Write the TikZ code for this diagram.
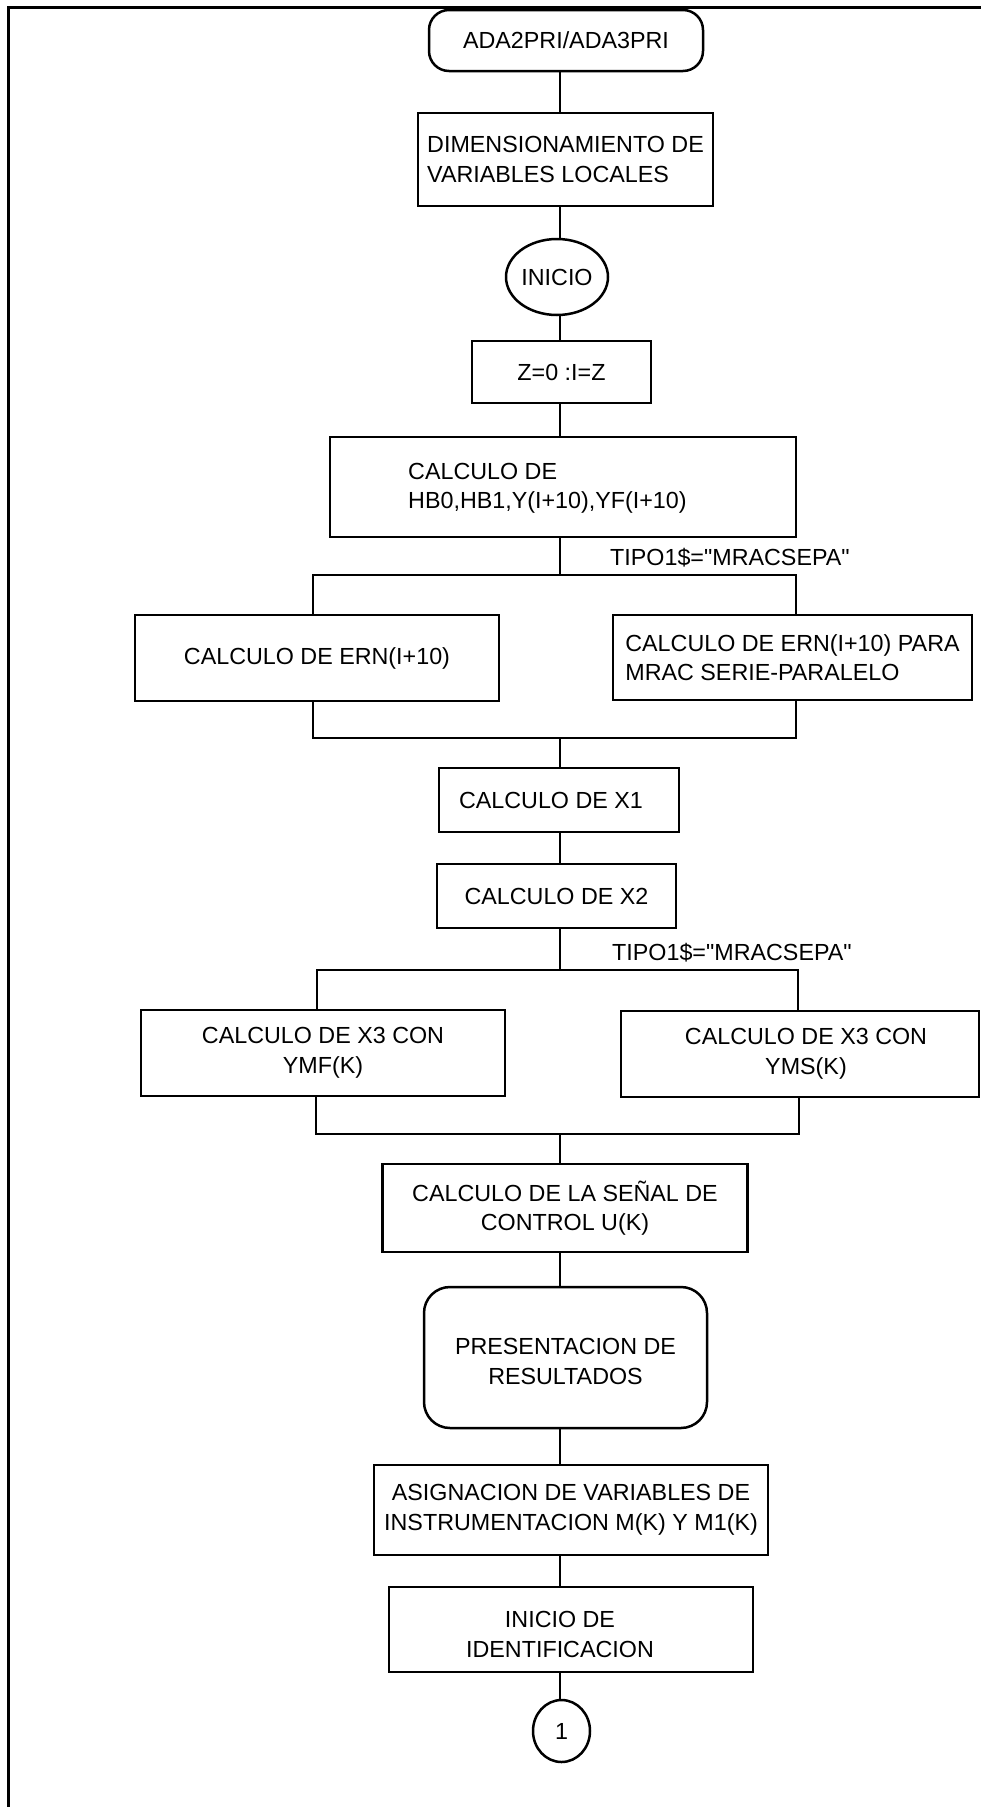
\documentclass[tikz,border=0pt]{standalone}
\usepackage{fontspec}
\setmainfont{Liberation Sans}[Ligatures=TeXOff]
\usetikzlibrary{shapes.geometric}
\begin{document}
\begin{tikzpicture}[x=1pt,y=-1pt,
  font=\fontsize{23.3}{29.5}\selectfont,
  box/.style={draw, line width=2.5pt, rectangle, inner sep=0pt, align=center},
  term/.style={box, rounded corners=#1},
  oval/.style={draw, line width=2.5pt, ellipse, inner sep=0pt},
  link/.style={line width=2pt},
  cond/.style={anchor=west, inner sep=0pt}]
\useasboundingbox (0,0) rectangle (981,1807);

% page frame
\draw[line width=3pt] (981,7) -- (8,7) -- (8,1807);

% main column
\node[term=20pt, minimum width=274pt, minimum height=61pt] (start) at (566,40.5) {ADA2PRI/ADA3PRI};
\node[box, align=left, minimum width=295pt, minimum height=93pt] (dim) at (565.5,159.5)
  {DIMENSIONAMIENTO DE\\VARIABLES LOCALES};
\node[oval, minimum width=102pt, minimum height=76pt] (inicio) at (557,277) {INICIO};
\node[box, minimum width=179pt, minimum height=62pt] (zi) at (561.5,372) {Z=0 :I=Z};
\node[box, minimum width=466pt, minimum height=100pt] (hb) at (563,487) {};
\node[cond, align=left] (hbt) at (408,488.5) {CALCULO DE\\HB0,HB1,Y(I+10),YF(I+10)};

% first selection
\node[cond] (c1) at (610,558) {TIPO1\$="MRACSEPA"};
\node[box, minimum width=364pt, minimum height=86pt] (ernL) at (317,658) {CALCULO DE ERN(I+10)};
\node[box, align=left, minimum width=359pt, minimum height=85pt] (ernR) at (792.5,657.5)
  {CALCULO DE ERN(I+10) PARA\\MRAC SERIE-PARALELO};

\node[box, minimum width=240pt, minimum height=64pt,
  label={[xshift=-8pt]center:CALCULO DE X1}] (x1) at (559,800) {};
\node[box, minimum width=239pt, minimum height=64pt] (x2) at (556.5,896) {CALCULO DE X2};

% second selection
\node[cond] (c2) at (612,953) {TIPO1\$="MRACSEPA"};
\node[box, minimum width=364pt, minimum height=86pt] (x3L) at (323,1053) {CALCULO DE X3 CON\\YMF(K)};
\node[box, minimum width=358pt, minimum height=86pt,
  label={[xshift=6pt, align=center]center:CALCULO DE X3 CON\\YMS(K)}] (x3R) at (800,1054) {};

\node[box, minimum width=365pt, minimum height=88pt] (senal) at (565,1208)
  {CALCULO DE LA SEÑAL DE\\CONTROL U(K)};
\node[term=26pt, minimum width=283pt, minimum height=141pt,
  label={[yshift=-4pt, align=center]center:PRESENTACION DE\\RESULTADOS}] (pres) at (565.5,1357.5) {};
\node[box, minimum width=394pt, minimum height=90pt] (asig) at (571,1510)
  {ASIGNACION DE VARIABLES DE\\INSTRUMENTACION M(K) Y M1(K)};
\node[box, minimum width=364pt, minimum height=85pt,
  label={[xshift=-11pt, yshift=-5pt, align=center]center:INICIO DE\\IDENTIFICACION}] (ident) at (571,1629.5) {};
\node[oval, minimum width=57pt, minimum height=62pt] (one) at (561.5,1731) {1};

% connector geometry
\coordinate (sp) at (560,0);
\coordinate (b1) at (560,575);  \coordinate (b1l) at (313,575);  \coordinate (b1r) at (796,575);
\coordinate (m1) at (560,738);  \coordinate (m1l) at (313,738);  \coordinate (m1r) at (796,738);
\coordinate (b2) at (560,970);  \coordinate (b2l) at (317,970);  \coordinate (b2r) at (798,970);
\coordinate (m2) at (560,1134); \coordinate (m2l) at (316,1134); \coordinate (m2r) at (799,1134);

% straight links
\draw[link] (start.south -| sp) -- (dim.north -| sp);
\draw[link] (dim.south -| sp) -- (inicio.north -| sp);
\draw[link] (inicio.south -| sp) -- (zi.north -| sp);
\draw[link] (zi.south -| sp) -- (hb.north -| sp);

% first split and join
\draw[link] (hb.south -| sp) -- (b1);
\draw[link] (b1l |- ernL.north) -- (b1l) -- (b1r) -- (b1r |- ernR.north);
\draw[link] (m1l |- ernL.south) -- (m1l) -- (m1r) -- (m1r |- ernR.south);
\draw[link] (m1) -- (m1 |- x1.north);
\draw[link] (x1.south -| sp) -- (x2.north -| sp);

% second split and join
\draw[link] (x2.south -| sp) -- (b2);
\draw[link] (b2l |- x3L.north) -- (b2l) -- (b2r) -- (b2r |- x3R.north);
\draw[link] (m2l |- x3L.south) -- (m2l) -- (m2r) -- (m2r |- x3R.south);
\draw[link] (m2) -- (m2 |- senal.north);

\draw[link] (senal.south -| sp) -- (pres.north -| sp);
\draw[link] (pres.south -| sp) -- (asig.north -| sp);
\draw[link] (asig.south -| sp) -- (ident.north -| sp);
\draw[link] (ident.south -| sp) -- (one.north -| sp);
\end{tikzpicture}
\end{document}
